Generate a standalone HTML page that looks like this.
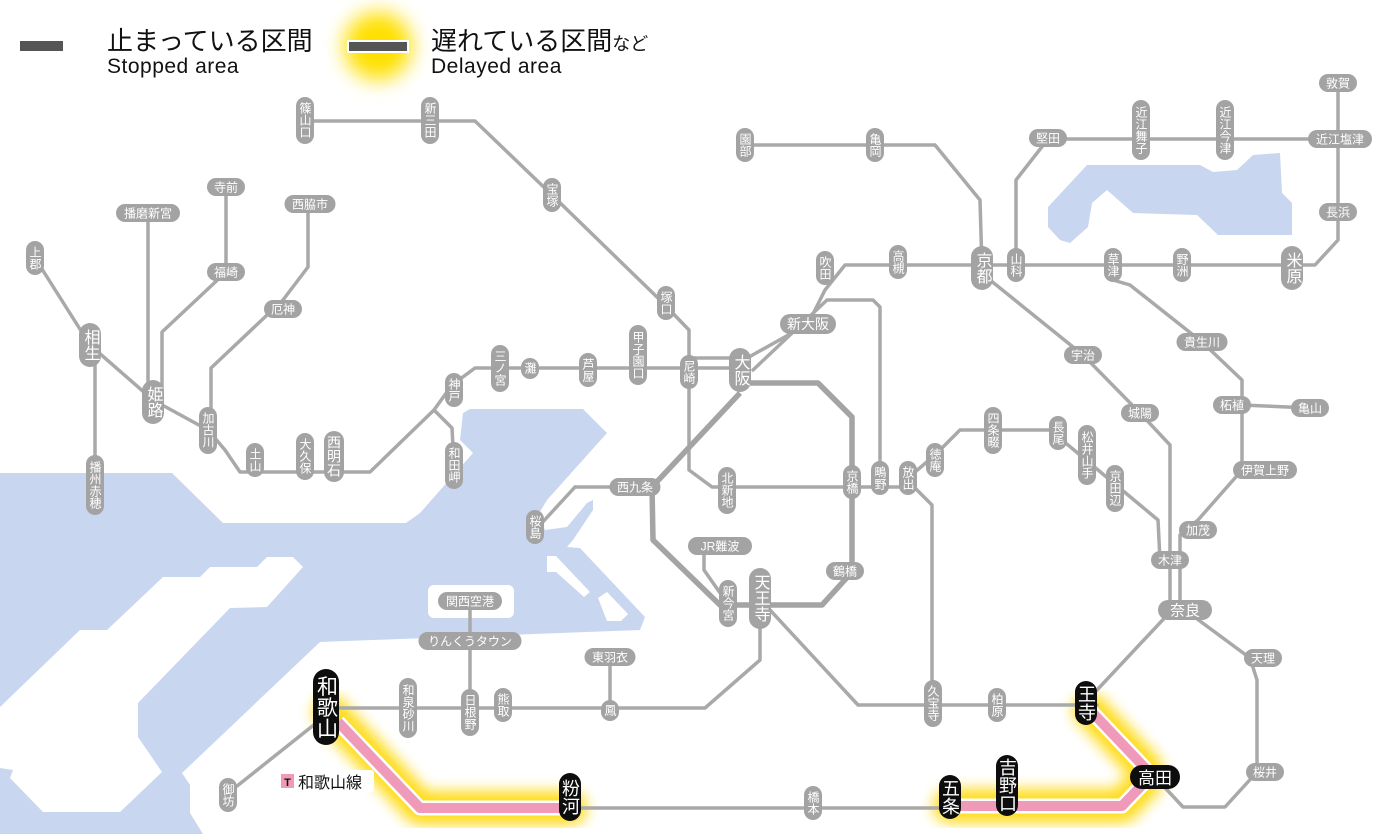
<!DOCTYPE html>
<html><head><meta charset="utf-8"><style>
html,body{margin:0;padding:0;background:#fff;}
svg{display:block;font-family:"Liberation Sans","Noto Sans CJK JP",sans-serif;}
.l{fill:none;stroke:#a9a9a9;stroke-width:3.5;stroke-linejoin:round;stroke-linecap:round}
.lt{fill:none;stroke:#a4a4a4;stroke-width:5.5;stroke-linejoin:round}
.s{fill:#a3a3a3}
.b{fill:#0d0d0d}
.t{fill:#fff;font-size:12px;text-anchor:middle}
.v{fill:#fff;font-size:12px;text-anchor:middle;writing-mode:vertical-rl;letter-spacing:0}
.vb{fill:#fff;font-size:16px;text-anchor:middle;writing-mode:vertical-rl}
.vk{fill:#fff;font-size:18px;text-anchor:middle;writing-mode:vertical-rl}
</style></head><body>
<svg width="1400" height="834" viewBox="0 0 1400 834" xmlns="http://www.w3.org/2000/svg">
<defs><filter id="g" x="-20%" y="-20%" width="140%" height="140%"><feGaussianBlur stdDeviation="7"/></filter>
<filter id="g2" x="-50%" y="-50%" width="200%" height="200%"><feGaussianBlur stdDeviation="10"/></filter></defs>
<!-- water -->
<g fill="#c9d6f0">
<polygon points="0,473 172,473 223,523 406,523 420,513 473,453 460,440 463,413 470,409 583,409 607,433 547,500 538,515 545,530 567,527 587,503 593,500 593,510 573,540 567,547 580,548 645,617 640,630 320,642 182,773 190,785 190,813 203,834 0,834"/>
<polygon points="1087,165 1200,165 1213,172 1237,170 1253,155 1280,153 1282,193 1292,203 1292,235 1218,235 1197,215 1133,213 1107,190 1092,203 1088,227 1070,243 1060,240 1048,227 1048,207"/>
</g>
<g fill="#fff">
<polygon points="0,707 80,630 107,630 163,577 200,577 210,567 257,567 267,557 293,557 303,567 267,607 230,608 138,703 138,737 162,772 120,812 43,812 10,778 13,770 0,768"/>
<rect x="428" y="585" width="86" height="33" rx="6"/>
<polygon points="547,556 556,556 590,592 584,597 556,572 547,572"/>
<polygon points="598,598 607,592 628,614 621,621 607,621"/>
</g>
<!-- legend -->
<rect x="20" y="41" width="43" height="10" fill="#555"/>
<text x="107" y="50" font-size="26" fill="#111">止まっている区間</text>
<text x="107" y="73" font-size="21" fill="#111" letter-spacing="0.5">Stopped area</text>
<circle cx="378" cy="46" r="34" fill="#ffe000" filter="url(#g2)"/>
<rect x="347" y="40" width="62" height="13" fill="#fff"/>
<rect x="349" y="42" width="58" height="9" fill="#555"/>
<text x="431" y="50" font-size="26" fill="#111">遅れている区間<tspan font-size="18">など</tspan></text>
<text x="431" y="73" font-size="21" fill="#111" letter-spacing="0.5">Delayed area</text>
<!-- glow -->
<g filter="url(#g)" stroke="#ffd800" stroke-width="34" fill="none" stroke-linejoin="round" stroke-linecap="round" opacity="0.9">
<polyline points="330,712 420,808 570,808"/>
<polyline points="950,806 1122,806 1145,782 1145,768 1090,710"/>
</g>
<!-- lines -->
<g class="l">
<polyline points="35,258 90,345 153,400 208,430 225,450 240,472 370,472 434,410 452,385 475,368 740,368"/>
<polyline points="434,410 452,428 454,465"/>
<polyline points="95,345 95,485"/>
<polyline points="148,213 148,400"/>
<polyline points="226,187 226,272 162,332 162,400"/>
<polyline points="308,204 308,267 283,300 211,368 211,430"/>
<polyline points="305,121 475,121 552,195 660,300 689,330 689,470 712,487 908,487"/>
<polyline points="689,358 740,358"/>
<polyline points="575,487 540,525"/>
<polyline points="652,487 575,487"/>
<polyline points="740,362 808,324 825,290 845,265 1315,265 1338,240 1338,83"/>
<polyline points="753,370 827,300 873,300 880,307 880,478"/>
<polyline points="1016,265 1016,180 1048,139 1338,139"/>
<polyline points="745,145 935,145 980,200 982,268"/>
<polyline points="908,478 935,455 960,430 1050,430 1158,520 1160,560"/>
<polyline points="990,280 1083,355 1140,413 1170,445 1170,610"/>
<polyline points="1113,280 1130,285 1202,342 1242,380 1242,470 1198,520 1180,535 1180,610"/>
<polyline points="1242,405 1310,408"/>
<polyline points="1172,610 1097,690"/>
<polyline points="1185,610 1250,658 1257,680 1257,772 1225,807 1183,807 1155,777"/>
<polyline points="770,610 858,705 1097,705"/>
<polyline points="915,488 932,505 932,705"/>
<polyline points="760,615 760,660 705,708 326,708"/>
<polyline points="470,601 470,712"/>
<polyline points="610,657 610,710"/>
<polyline points="704,546 704,570 718,590 728,603"/>
<polyline points="320,720 232,790"/>
<polyline points="570,808 950,808"/>
</g>
<g class="lt">
<polyline points="740,383 818,383 852,417 852,572 822,605 720,605 653,540 652,487 740,393"/>
</g>
<!-- delayed pink -->
<g fill="none" stroke-linejoin="round">
<polyline points="338,722 420,808 570,808" stroke="#fff" stroke-width="15"/>
<polyline points="338,722 420,808 570,808" stroke="#f09ab9" stroke-width="10"/>
<polyline points="950,806 1122,806 1145,782 1145,768 1090,710" stroke="#fff" stroke-width="15"/>
<polyline points="950,806 1122,806 1145,782 1145,768 1090,710" stroke="#f09ab9" stroke-width="10"/>
</g>
<!-- vertical small stations -->
<g class="s">
<rect x="296" y="97" width="18" height="47" rx="9"/><rect x="421" y="97" width="18" height="47" rx="9"/>
<rect x="543" y="178" width="18" height="34" rx="9"/><rect x="657" y="286" width="18" height="34" rx="9"/>
<rect x="680" y="355" width="18" height="34" rx="9"/><rect x="629" y="325" width="18" height="60" rx="9"/>
<rect x="579" y="353" width="18" height="34" rx="9"/><rect x="521" y="358" width="18" height="21" rx="9"/>
<rect x="491" y="345" width="18" height="47" rx="9"/><rect x="445" y="373" width="18" height="34" rx="9"/>
<rect x="445" y="442" width="18" height="47" rx="9"/><rect x="324" y="431" width="20" height="51" rx="10"/>
<rect x="296" y="433" width="18" height="47" rx="9"/><rect x="246" y="443" width="18" height="34" rx="9"/>
<rect x="199" y="407" width="18" height="47" rx="9"/><rect x="26" y="241" width="18" height="34" rx="9"/>
<rect x="86" y="455" width="18" height="60" rx="9"/><rect x="816" y="251" width="18" height="34" rx="9"/>
<rect x="889" y="245" width="18" height="34" rx="9"/><rect x="1007" y="248" width="18" height="34" rx="9"/>
<rect x="1104" y="248" width="18" height="34" rx="9"/><rect x="1173" y="248" width="18" height="34" rx="9"/>
<rect x="1132" y="100" width="18" height="60" rx="9"/><rect x="1216" y="100" width="18" height="60" rx="9"/>
<rect x="736" y="128" width="18" height="34" rx="9"/><rect x="866" y="128" width="18" height="34" rx="9"/>
<rect x="718" y="467" width="18" height="47" rx="9"/><rect x="843" y="465" width="18" height="34" rx="9"/>
<rect x="871" y="461" width="18" height="34" rx="9"/><rect x="899" y="461" width="18" height="34" rx="9"/>
<rect x="926" y="443" width="18" height="34" rx="9"/><rect x="984" y="407" width="18" height="47" rx="9"/>
<rect x="1049" y="416" width="18" height="34" rx="9"/><rect x="1078" y="425" width="18" height="60" rx="9"/>
<rect x="1106" y="465" width="18" height="47" rx="9"/><rect x="719" y="580" width="18" height="47" rx="9"/>
<rect x="924" y="680" width="18" height="47" rx="9"/><rect x="988" y="688" width="18" height="34" rx="9"/>
<rect x="219" y="778" width="18" height="34" rx="9"/><rect x="399" y="678" width="18" height="60" rx="9"/>
<rect x="461" y="689" width="18" height="47" rx="9"/><rect x="494" y="688" width="18" height="34" rx="9"/>
<rect x="601" y="700" width="18" height="21" rx="9"/><rect x="526" y="510" width="18" height="34" rx="9"/>
<rect x="804" y="786" width="18" height="34" rx="9"/>
<!-- big vertical -->
<rect x="971" y="246" width="22" height="44" rx="11"/><rect x="1281" y="246" width="22" height="44" rx="11"/>
<rect x="142" y="380" width="22" height="44" rx="11"/><rect x="79" y="323" width="22" height="44" rx="11"/>
<rect x="729" y="348" width="22" height="44" rx="11"/><rect x="749" y="568" width="22" height="61" rx="11"/>
<!-- horizontal -->
<rect x="207" y="178" width="38" height="18" rx="9"/><rect x="116" y="204" width="64" height="18" rx="9"/>
<rect x="284.5" y="195" width="51" height="18" rx="9"/><rect x="207" y="263" width="38" height="18" rx="9"/>
<rect x="264" y="300" width="38" height="18" rx="9"/><rect x="609.5" y="478" width="51" height="18" rx="9"/>
<rect x="688" y="537" width="64" height="18" rx="9"/><rect x="826" y="562" width="38" height="18" rx="9"/>
<rect x="1064" y="346" width="38" height="18" rx="9"/><rect x="1121" y="404" width="38" height="18" rx="9"/>
<rect x="1176.5" y="333" width="51" height="18" rx="9"/><rect x="1213" y="396" width="38" height="18" rx="9"/>
<rect x="1291" y="399" width="38" height="18" rx="9"/><rect x="1233" y="461" width="64" height="18" rx="9"/>
<rect x="1179" y="521" width="38" height="18" rx="9"/><rect x="1151" y="551" width="38" height="18" rx="9"/>
<rect x="1244" y="649" width="38" height="18" rx="9"/><rect x="1246" y="763" width="38" height="18" rx="9"/>
<rect x="1029" y="129" width="38" height="18" rx="9"/><rect x="1308" y="130" width="64" height="18" rx="9"/>
<rect x="1319" y="74" width="38" height="18" rx="9"/><rect x="1319" y="203" width="38" height="18" rx="9"/>
<rect x="438" y="592" width="64" height="18" rx="9"/><rect x="418.5" y="632" width="103" height="18" rx="9"/>
<rect x="584.5" y="648" width="51" height="18" rx="9"/>
<rect x="780" y="314" width="56" height="20" rx="10"/><rect x="1158" y="600" width="54" height="20" rx="10"/>
</g>
<g class="v">
<text x="305" y="120">篠山口</text><text x="430" y="120">新三田</text><text x="552" y="195">宝塚</text>
<text x="666" y="303">塚口</text><text x="689" y="372">尼崎</text><text x="638" y="355">甲子園口</text>
<text x="588" y="370">芦屋</text><text x="530" y="368">灘</text><text x="500" y="368">三ノ宮</text>
<text x="454" y="390">神戸</text><text x="454" y="465">和田岬</text><text x="334" y="456" font-size="14">西明石</text>
<text x="305" y="456">大久保</text><text x="255" y="460">土山</text><text x="208" y="430">加古川</text>
<text x="35" y="258">上郡</text><text x="95" y="485">播州赤穂</text><text x="825" y="268">吹田</text>
<text x="898" y="262">高槻</text><text x="1016" y="265">山科</text><text x="1113" y="265">草津</text>
<text x="1182" y="265">野洲</text><text x="1141" y="130">近江舞子</text><text x="1225" y="130">近江今津</text>
<text x="745" y="145">園部</text><text x="875" y="145">亀岡</text><text x="727" y="490">北新地</text>
<text x="852" y="482">京橋</text><text x="880" y="478">鴫野</text><text x="908" y="478">放出</text>
<text x="935" y="460">徳庵</text><text x="993" y="430">四条畷</text><text x="1058" y="433">長尾</text>
<text x="1087" y="455">松井山手</text><text x="1115" y="488">京田辺</text><text x="728" y="603">新今宮</text>
<text x="933" y="703">久宝寺</text><text x="997" y="705">柏原</text><text x="228" y="795">御坊</text>
<text x="408" y="708">和泉砂川</text><text x="470" y="712">日根野</text><text x="503" y="705">熊取</text>
<text x="610" y="710">鳳</text><text x="535" y="527">桜島</text><text x="813" y="803">橋本</text>
</g>
<g class="vb">
<text x="982" y="268">京都</text><text x="1292" y="268">米原</text><text x="153" y="402">姫路</text>
<text x="90" y="345">相生</text><text x="740" y="370">大阪</text><text x="760" y="598">天王寺</text>
</g>
<g class="t">
<text x="226" y="191.5">寺前</text><text x="148" y="217.5">播磨新宮</text><text x="310" y="208.5">西脇市</text>
<text x="226" y="276.5">福崎</text><text x="283" y="313.5">厄神</text><text x="635" y="491.5">西九条</text>
<text x="720" y="550.5">JR難波</text><text x="845" y="575.5">鶴橋</text><text x="1083" y="359.5">宇治</text>
<text x="1140" y="417.5">城陽</text><text x="1202" y="346.5">貴生川</text><text x="1232" y="409.5">柘植</text>
<text x="1310" y="412.5">亀山</text><text x="1265" y="474.5">伊賀上野</text><text x="1198" y="534.5">加茂</text>
<text x="1170" y="564.5">木津</text><text x="1263" y="662.5">天理</text><text x="1265" y="776.5">桜井</text>
<text x="1048" y="142.5">堅田</text><text x="1340" y="143.5">近江塩津</text><text x="1338" y="87.5">敦賀</text>
<text x="1338" y="216.5">長浜</text><text x="470" y="605.5">関西空港</text><text x="470" y="645.5">りんくうタウン</text>
<text x="610" y="661.5">東羽衣</text>
<text x="808" y="329" font-size="14">新大阪</text><text x="1185" y="615.5" font-size="15">奈良</text>
</g>
<!-- black stations -->
<g class="b">
<rect x="1075" y="681" width="22" height="44" rx="11"/><rect x="996" y="755" width="22" height="61" rx="11"/>
<rect x="939" y="775" width="22" height="44" rx="11"/><rect x="559" y="773" width="22" height="48" rx="11"/>
<rect x="313" y="669" width="26" height="76" rx="13"/><rect x="1130" y="765" width="50" height="24" rx="12"/>
</g>
<g class="vk">
<text x="1086" y="703">王寺</text><text x="1007" y="785">吉野口</text><text x="950" y="797">五条</text>
<text x="570" y="797">粉河</text><text x="326" y="707" font-size="21">和歌山</text>
</g>
<text x="1155" y="784" fill="#fff" font-size="17" text-anchor="middle">高田</text>
<!-- line label -->
<rect x="277" y="770" width="97" height="22" rx="3" fill="#fff"/>
<rect x="281" y="774" width="13" height="14" fill="#f09ab9"/>
<text x="287.5" y="786" font-size="11" font-weight="bold" text-anchor="middle" fill="#111">T</text>
<text x="298" y="788" font-size="16" fill="#111">和歌山線</text>
</svg>
</body></html>
